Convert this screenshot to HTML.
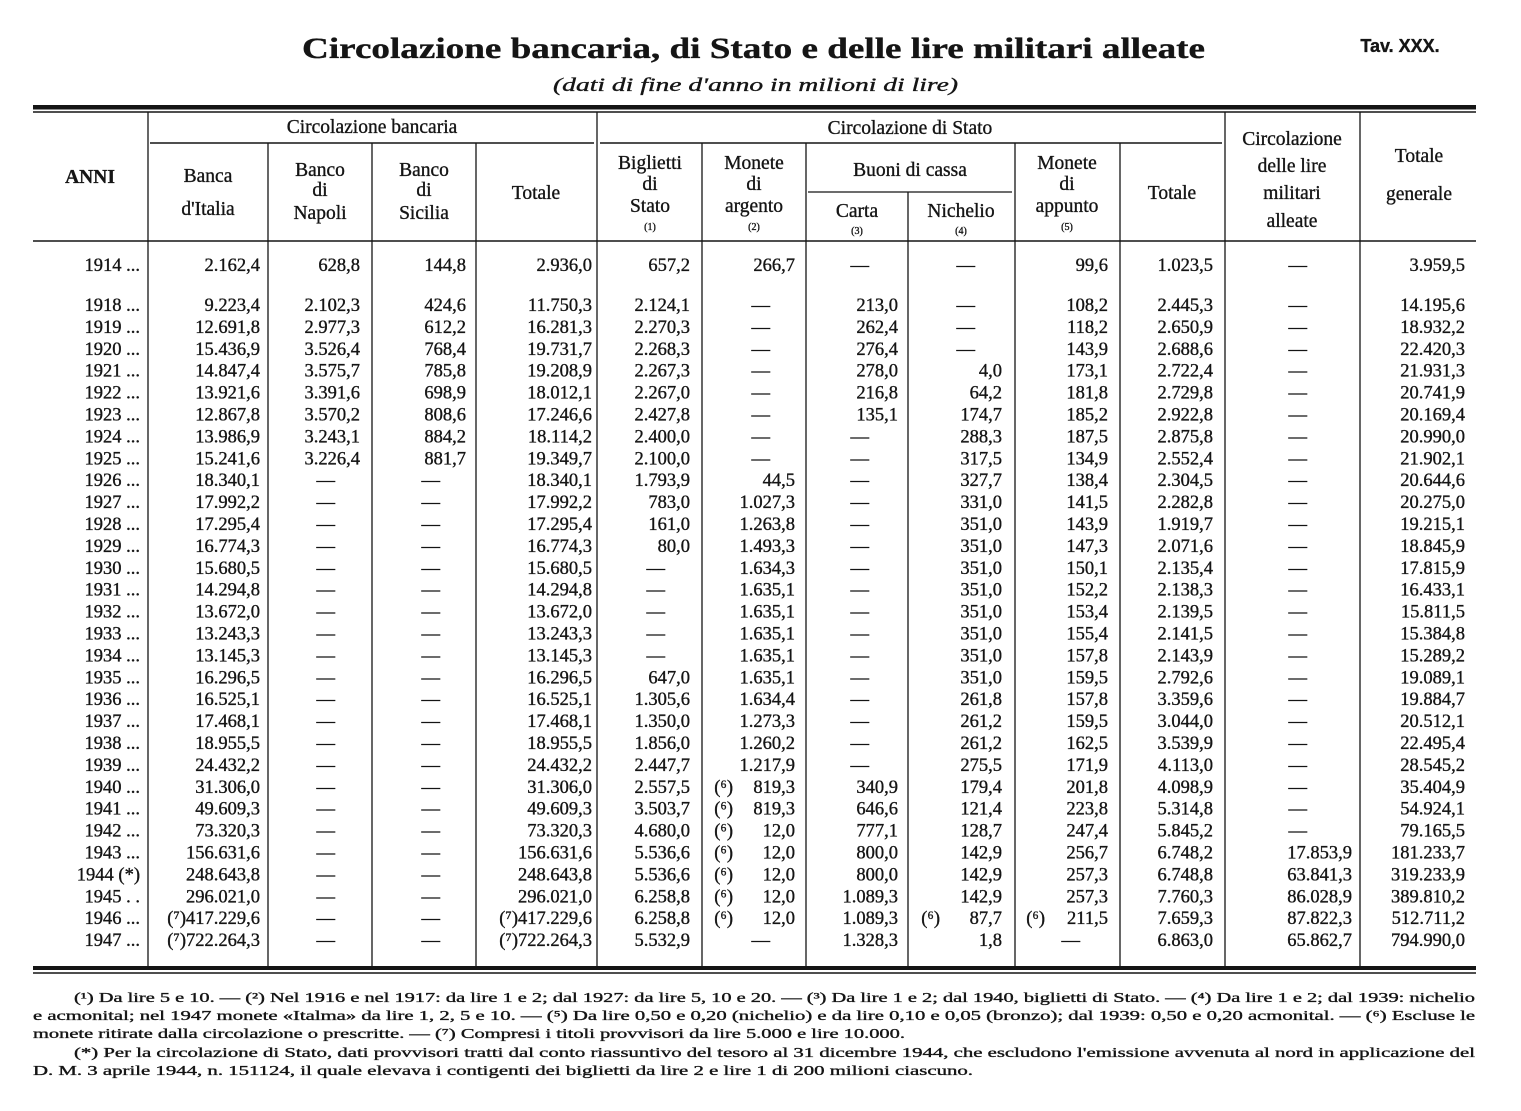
<!DOCTYPE html>
<html><head><meta charset="utf-8"><style>
html,body{margin:0;padding:0;background:#fff;}
svg{display:block;}
text{font-family:"Liberation Serif",serif;fill:#151515;stroke:#151515;stroke-width:0.35;}
.h{font-size:19.5px;}
.d{font-size:18.5px;text-anchor:end;}
.c{text-anchor:middle;}
.s{font-size:10px;text-anchor:middle;}
.f{font-size:13.4px;stroke-width:0.25;}
</style></head><body>
<svg width="1521" height="1111" viewBox="0 0 1521 1111" xmlns="http://www.w3.org/2000/svg">
<text x="302" y="58" textLength="903" lengthAdjust="spacingAndGlyphs" style="font-size:30px;font-weight:bold">Circolazione bancaria, di Stato e delle lire militari alleate</text>
<text x="1400" y="52" class="c" style="font-family:'Liberation Sans',sans-serif;font-size:18px;font-weight:bold">Tav. XXX.</text>
<text x="553" y="91" textLength="405" lengthAdjust="spacingAndGlyphs" style="font-size:19px;font-style:italic">(dati di fine d'anno in milioni di lire)</text>
<g stroke="#151515" fill="none">
<rect x="33" y="105" width="1443" height="4.5" fill="#151515" stroke="none"/>
<line x1="33" y1="112" x2="1476" y2="112" stroke-width="1.5"/>
<line x1="33" y1="241" x2="1476" y2="241" stroke-width="1.5"/>
<line x1="150" y1="143" x2="594" y2="143" stroke-width="1.5"/>
<line x1="600" y1="143" x2="1222" y2="143" stroke-width="1.5"/>
<line x1="808" y1="192" x2="1012" y2="192" stroke-width="1.2"/>
<rect x="33" y="966" width="1443" height="4" fill="#151515" stroke="none"/>
<line x1="33" y1="973" x2="1476" y2="973" stroke-width="1.5"/>
<g stroke-width="1.3">
<line x1="148" y1="112" x2="148" y2="966"/>
<line x1="268" y1="143" x2="268" y2="966"/>
<line x1="372" y1="143" x2="372" y2="966"/>
<line x1="476" y1="143" x2="476" y2="966"/>
<line x1="597" y1="112" x2="597" y2="966"/>
<line x1="702" y1="143" x2="702" y2="966"/>
<line x1="806" y1="143" x2="806" y2="966"/>
<line x1="908" y1="192" x2="908" y2="966"/>
<line x1="1015" y1="143" x2="1015" y2="966"/>
<line x1="1120" y1="143" x2="1120" y2="966"/>
<line x1="1225" y1="112" x2="1225" y2="966"/>
<line x1="1360" y1="112" x2="1360" y2="966"/>
</g></g>
<g class="h">
<text x="90" y="183" class="c" style="font-weight:bold">ANNI</text>
<text x="372" y="133" class="c">Circolazione bancaria</text>
<text x="910" y="134" class="c">Circolazione di Stato</text>
<text x="208" y="182" class="c">Banca</text><text x="208" y="215" class="c">d'Italia</text>
<text x="320" y="176" class="c">Banco</text><text x="320" y="196" class="c">di</text><text x="320" y="219" class="c">Napoli</text>
<text x="424" y="176" class="c">Banco</text><text x="424" y="196" class="c">di</text><text x="424" y="219" class="c">Sicilia</text>
<text x="536" y="199" class="c">Totale</text>
<text x="650" y="169" class="c">Biglietti</text><text x="650" y="190" class="c">di</text><text x="650" y="212" class="c">Stato</text>
<text x="754" y="169" class="c">Monete</text><text x="754" y="190" class="c">di</text><text x="754" y="212" class="c">argento</text>
<text x="910" y="176" class="c">Buoni di cassa</text>
<text x="857" y="217" class="c">Carta</text><text x="961" y="217" class="c">Nichelio</text>
<text x="1067" y="169" class="c">Monete</text><text x="1067" y="190" class="c">di</text><text x="1067" y="212" class="c">appunto</text>
<text x="1172" y="199" class="c">Totale</text>
<text x="1292" y="145" class="c">Circolazione</text><text x="1292" y="172" class="c">delle lire</text><text x="1292" y="199" class="c">militari</text><text x="1292" y="227" class="c">alleate</text>
<text x="1419" y="162" class="c">Totale</text><text x="1419" y="200" class="c">generale</text>
</g>
<text x="650" y="230" class="s">(1)</text><text x="754" y="230" class="s">(2)</text><text x="857" y="234" class="s">(3)</text><text x="961" y="234" class="s">(4)</text><text x="1067" y="230" class="s">(5)</text>

<g class="d">
<g transform="translate(0,271)"><text x="140">1914 ...</text><text x="260">2.162,4</text><text x="360">628,8</text><text x="466">144,8</text><text x="592">2.936,0</text><text x="690">657,2</text><text x="795">266,7</text><text x="869">—</text><text x="975">—</text><text x="1108">99,6</text><text x="1213">1.023,5</text><text x="1307">—</text><text x="1465">3.959,5</text></g>
<g transform="translate(0,311)"><text x="140">1918 ...</text><text x="260">9.223,4</text><text x="360">2.102,3</text><text x="466">424,6</text><text x="592">11.750,3</text><text x="690">2.124,1</text><text x="770">—</text><text x="898">213,0</text><text x="975">—</text><text x="1108">108,2</text><text x="1213">2.445,3</text><text x="1307">—</text><text x="1465">14.195,6</text></g>
<g transform="translate(0,332.9)"><text x="140">1919 ...</text><text x="260">12.691,8</text><text x="360">2.977,3</text><text x="466">612,2</text><text x="592">16.281,3</text><text x="690">2.270,3</text><text x="770">—</text><text x="898">262,4</text><text x="975">—</text><text x="1108">118,2</text><text x="1213">2.650,9</text><text x="1307">—</text><text x="1465">18.932,2</text></g>
<g transform="translate(0,354.8)"><text x="140">1920 ...</text><text x="260">15.436,9</text><text x="360">3.526,4</text><text x="466">768,4</text><text x="592">19.731,7</text><text x="690">2.268,3</text><text x="770">—</text><text x="898">276,4</text><text x="975">—</text><text x="1108">143,9</text><text x="1213">2.688,6</text><text x="1307">—</text><text x="1465">22.420,3</text></g>
<g transform="translate(0,376.7)"><text x="140">1921 ...</text><text x="260">14.847,4</text><text x="360">3.575,7</text><text x="466">785,8</text><text x="592">19.208,9</text><text x="690">2.267,3</text><text x="770">—</text><text x="898">278,0</text><text x="1002">4,0</text><text x="1108">173,1</text><text x="1213">2.722,4</text><text x="1307">—</text><text x="1465">21.931,3</text></g>
<g transform="translate(0,398.6)"><text x="140">1922 ...</text><text x="260">13.921,6</text><text x="360">3.391,6</text><text x="466">698,9</text><text x="592">18.012,1</text><text x="690">2.267,0</text><text x="770">—</text><text x="898">216,8</text><text x="1002">64,2</text><text x="1108">181,8</text><text x="1213">2.729,8</text><text x="1307">—</text><text x="1465">20.741,9</text></g>
<g transform="translate(0,420.5)"><text x="140">1923 ...</text><text x="260">12.867,8</text><text x="360">3.570,2</text><text x="466">808,6</text><text x="592">17.246,6</text><text x="690">2.427,8</text><text x="770">—</text><text x="898">135,1</text><text x="1002">174,7</text><text x="1108">185,2</text><text x="1213">2.922,8</text><text x="1307">—</text><text x="1465">20.169,4</text></g>
<g transform="translate(0,442.4)"><text x="140">1924 ...</text><text x="260">13.986,9</text><text x="360">3.243,1</text><text x="466">884,2</text><text x="592">18.114,2</text><text x="690">2.400,0</text><text x="770">—</text><text x="869">—</text><text x="1002">288,3</text><text x="1108">187,5</text><text x="1213">2.875,8</text><text x="1307">—</text><text x="1465">20.990,0</text></g>
<g transform="translate(0,464.3)"><text x="140">1925 ...</text><text x="260">15.241,6</text><text x="360">3.226,4</text><text x="466">881,7</text><text x="592">19.349,7</text><text x="690">2.100,0</text><text x="770">—</text><text x="869">—</text><text x="1002">317,5</text><text x="1108">134,9</text><text x="1213">2.552,4</text><text x="1307">—</text><text x="1465">21.902,1</text></g>
<g transform="translate(0,486.2)"><text x="140">1926 ...</text><text x="260">18.340,1</text><text x="335">—</text><text x="440">—</text><text x="592">18.340,1</text><text x="690">1.793,9</text><text x="795">44,5</text><text x="869">—</text><text x="1002">327,7</text><text x="1108">138,4</text><text x="1213">2.304,5</text><text x="1307">—</text><text x="1465">20.644,6</text></g>
<g transform="translate(0,508.1)"><text x="140">1927 ...</text><text x="260">17.992,2</text><text x="335">—</text><text x="440">—</text><text x="592">17.992,2</text><text x="690">783,0</text><text x="795">1.027,3</text><text x="869">—</text><text x="1002">331,0</text><text x="1108">141,5</text><text x="1213">2.282,8</text><text x="1307">—</text><text x="1465">20.275,0</text></g>
<g transform="translate(0,530)"><text x="140">1928 ...</text><text x="260">17.295,4</text><text x="335">—</text><text x="440">—</text><text x="592">17.295,4</text><text x="690">161,0</text><text x="795">1.263,8</text><text x="869">—</text><text x="1002">351,0</text><text x="1108">143,9</text><text x="1213">1.919,7</text><text x="1307">—</text><text x="1465">19.215,1</text></g>
<g transform="translate(0,551.9)"><text x="140">1929 ...</text><text x="260">16.774,3</text><text x="335">—</text><text x="440">—</text><text x="592">16.774,3</text><text x="690">80,0</text><text x="795">1.493,3</text><text x="869">—</text><text x="1002">351,0</text><text x="1108">147,3</text><text x="1213">2.071,6</text><text x="1307">—</text><text x="1465">18.845,9</text></g>
<g transform="translate(0,573.8)"><text x="140">1930 ...</text><text x="260">15.680,5</text><text x="335">—</text><text x="440">—</text><text x="592">15.680,5</text><text x="665">—</text><text x="795">1.634,3</text><text x="869">—</text><text x="1002">351,0</text><text x="1108">150,1</text><text x="1213">2.135,4</text><text x="1307">—</text><text x="1465">17.815,9</text></g>
<g transform="translate(0,595.7)"><text x="140">1931 ...</text><text x="260">14.294,8</text><text x="335">—</text><text x="440">—</text><text x="592">14.294,8</text><text x="665">—</text><text x="795">1.635,1</text><text x="869">—</text><text x="1002">351,0</text><text x="1108">152,2</text><text x="1213">2.138,3</text><text x="1307">—</text><text x="1465">16.433,1</text></g>
<g transform="translate(0,617.6)"><text x="140">1932 ...</text><text x="260">13.672,0</text><text x="335">—</text><text x="440">—</text><text x="592">13.672,0</text><text x="665">—</text><text x="795">1.635,1</text><text x="869">—</text><text x="1002">351,0</text><text x="1108">153,4</text><text x="1213">2.139,5</text><text x="1307">—</text><text x="1465">15.811,5</text></g>
<g transform="translate(0,639.5)"><text x="140">1933 ...</text><text x="260">13.243,3</text><text x="335">—</text><text x="440">—</text><text x="592">13.243,3</text><text x="665">—</text><text x="795">1.635,1</text><text x="869">—</text><text x="1002">351,0</text><text x="1108">155,4</text><text x="1213">2.141,5</text><text x="1307">—</text><text x="1465">15.384,8</text></g>
<g transform="translate(0,661.4)"><text x="140">1934 ...</text><text x="260">13.145,3</text><text x="335">—</text><text x="440">—</text><text x="592">13.145,3</text><text x="665">—</text><text x="795">1.635,1</text><text x="869">—</text><text x="1002">351,0</text><text x="1108">157,8</text><text x="1213">2.143,9</text><text x="1307">—</text><text x="1465">15.289,2</text></g>
<g transform="translate(0,683.3)"><text x="140">1935 ...</text><text x="260">16.296,5</text><text x="335">—</text><text x="440">—</text><text x="592">16.296,5</text><text x="690">647,0</text><text x="795">1.635,1</text><text x="869">—</text><text x="1002">351,0</text><text x="1108">159,5</text><text x="1213">2.792,6</text><text x="1307">—</text><text x="1465">19.089,1</text></g>
<g transform="translate(0,705.2)"><text x="140">1936 ...</text><text x="260">16.525,1</text><text x="335">—</text><text x="440">—</text><text x="592">16.525,1</text><text x="690">1.305,6</text><text x="795">1.634,4</text><text x="869">—</text><text x="1002">261,8</text><text x="1108">157,8</text><text x="1213">3.359,6</text><text x="1307">—</text><text x="1465">19.884,7</text></g>
<g transform="translate(0,727.1)"><text x="140">1937 ...</text><text x="260">17.468,1</text><text x="335">—</text><text x="440">—</text><text x="592">17.468,1</text><text x="690">1.350,0</text><text x="795">1.273,3</text><text x="869">—</text><text x="1002">261,2</text><text x="1108">159,5</text><text x="1213">3.044,0</text><text x="1307">—</text><text x="1465">20.512,1</text></g>
<g transform="translate(0,749)"><text x="140">1938 ...</text><text x="260">18.955,5</text><text x="335">—</text><text x="440">—</text><text x="592">18.955,5</text><text x="690">1.856,0</text><text x="795">1.260,2</text><text x="869">—</text><text x="1002">261,2</text><text x="1108">162,5</text><text x="1213">3.539,9</text><text x="1307">—</text><text x="1465">22.495,4</text></g>
<g transform="translate(0,770.9)"><text x="140">1939 ...</text><text x="260">24.432,2</text><text x="335">—</text><text x="440">—</text><text x="592">24.432,2</text><text x="690">2.447,7</text><text x="795">1.217,9</text><text x="869">—</text><text x="1002">275,5</text><text x="1108">171,9</text><text x="1213">4.113,0</text><text x="1307">—</text><text x="1465">28.545,2</text></g>
<g transform="translate(0,792.8)"><text x="140">1940 ...</text><text x="260">31.306,0</text><text x="335">—</text><text x="440">—</text><text x="592">31.306,0</text><text x="690">2.557,5</text><text x="733">(⁶)</text><text x="795">819,3</text><text x="898">340,9</text><text x="1002">179,4</text><text x="1108">201,8</text><text x="1213">4.098,9</text><text x="1307">—</text><text x="1465">35.404,9</text></g>
<g transform="translate(0,814.7)"><text x="140">1941 ...</text><text x="260">49.609,3</text><text x="335">—</text><text x="440">—</text><text x="592">49.609,3</text><text x="690">3.503,7</text><text x="733">(⁶)</text><text x="795">819,3</text><text x="898">646,6</text><text x="1002">121,4</text><text x="1108">223,8</text><text x="1213">5.314,8</text><text x="1307">—</text><text x="1465">54.924,1</text></g>
<g transform="translate(0,836.6)"><text x="140">1942 ...</text><text x="260">73.320,3</text><text x="335">—</text><text x="440">—</text><text x="592">73.320,3</text><text x="690">4.680,0</text><text x="733">(⁶)</text><text x="795">12,0</text><text x="898">777,1</text><text x="1002">128,7</text><text x="1108">247,4</text><text x="1213">5.845,2</text><text x="1307">—</text><text x="1465">79.165,5</text></g>
<g transform="translate(0,858.5)"><text x="140">1943 ...</text><text x="260">156.631,6</text><text x="335">—</text><text x="440">—</text><text x="592">156.631,6</text><text x="690">5.536,6</text><text x="733">(⁶)</text><text x="795">12,0</text><text x="898">800,0</text><text x="1002">142,9</text><text x="1108">256,7</text><text x="1213">6.748,2</text><text x="1352">17.853,9</text><text x="1465">181.233,7</text></g>
<g transform="translate(0,880.4)"><text x="140">1944 (*)</text><text x="260">248.643,8</text><text x="335">—</text><text x="440">—</text><text x="592">248.643,8</text><text x="690">5.536,6</text><text x="733">(⁶)</text><text x="795">12,0</text><text x="898">800,0</text><text x="1002">142,9</text><text x="1108">257,3</text><text x="1213">6.748,8</text><text x="1352">63.841,3</text><text x="1465">319.233,9</text></g>
<g transform="translate(0,902.3)"><text x="140">1945 . .</text><text x="260">296.021,0</text><text x="335">—</text><text x="440">—</text><text x="592">296.021,0</text><text x="690">6.258,8</text><text x="733">(⁶)</text><text x="795">12,0</text><text x="898">1.089,3</text><text x="1002">142,9</text><text x="1108">257,3</text><text x="1213">7.760,3</text><text x="1352">86.028,9</text><text x="1465">389.810,2</text></g>
<g transform="translate(0,924.2)"><text x="140">1946 ...</text><text x="260">(⁷)417.229,6</text><text x="335">—</text><text x="440">—</text><text x="592">(⁷)417.229,6</text><text x="690">6.258,8</text><text x="733">(⁶)</text><text x="795">12,0</text><text x="898">1.089,3</text><text x="940">(⁶)</text><text x="1002">87,7</text><text x="1045">(⁶)</text><text x="1108">211,5</text><text x="1213">7.659,3</text><text x="1352">87.822,3</text><text x="1465">512.711,2</text></g>
<g transform="translate(0,946.1)"><text x="140">1947 ...</text><text x="260">(⁷)722.264,3</text><text x="335">—</text><text x="440">—</text><text x="592">(⁷)722.264,3</text><text x="690">5.532,9</text><text x="770">—</text><text x="898">1.328,3</text><text x="1002">1,8</text><text x="1080">—</text><text x="1213">6.863,0</text><text x="1352">65.862,7</text><text x="1465">794.990,0</text></g>
</g>

<g class="f">
<text x="74" y="1002" textLength="1401" lengthAdjust="spacingAndGlyphs">(¹) Da lire 5 e 10. — (²) Nel 1916 e nel 1917: da lire 1 e 2; dal 1927: da lire 5, 10 e 20. — (³) Da lire 1 e 2; dal 1940, biglietti di Stato. — (⁴) Da lire 1 e 2; dal 1939: nichelio</text>
<text x="33" y="1020" textLength="1442" lengthAdjust="spacingAndGlyphs">e acmonital; nel 1947 monete «Italma» da lire 1, 2, 5 e 10. — (⁵) Da lire 0,50 e 0,20 (nichelio) e da lire 0,10 e 0,05 (bronzo); dal 1939: 0,50 e 0,20 acmonital. — (⁶) Escluse le</text>
<text x="33" y="1038" textLength="872" lengthAdjust="spacingAndGlyphs">monete ritirate dalla circolazione o prescritte. — (⁷) Compresi i titoli provvisori da lire 5.000 e lire 10.000.</text>
<text x="74" y="1057" textLength="1401" lengthAdjust="spacingAndGlyphs">(*) Per la circolazione di Stato, dati provvisori tratti dal conto riassuntivo del tesoro al 31 dicembre 1944, che escludono l'emissione avvenuta al nord in applicazione del</text>
<text x="33" y="1075" textLength="940" lengthAdjust="spacingAndGlyphs">D. M. 3 aprile 1944, n. 151124, il quale elevava i contigenti dei biglietti da lire 2 e lire 1 di 200 milioni ciascuno.</text>
</g>
</svg>
</body></html>
